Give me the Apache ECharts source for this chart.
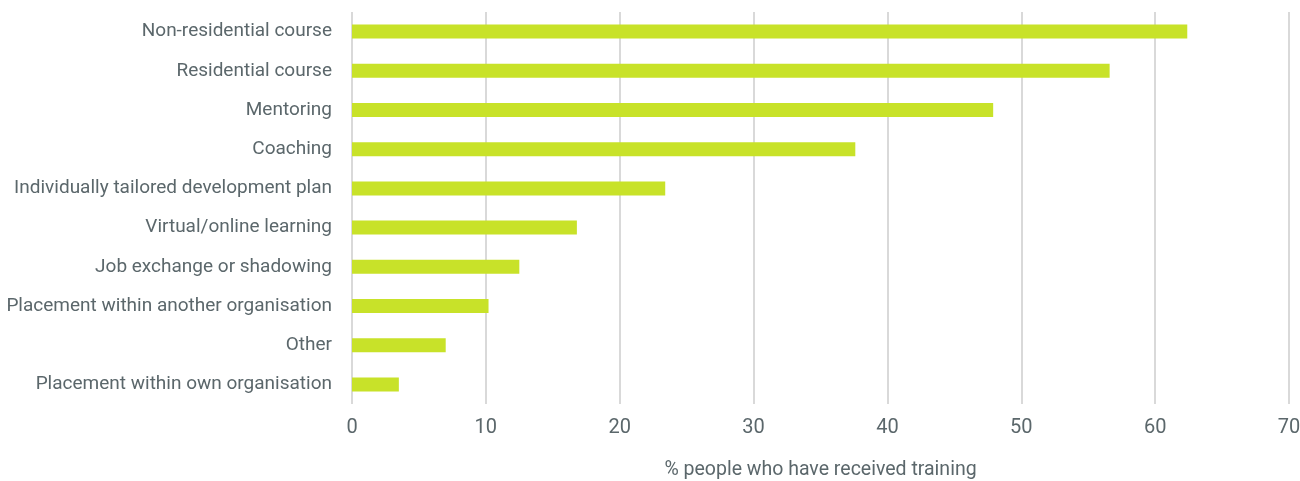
<!DOCTYPE html>
<html>
<head>
<meta charset="utf-8">
<script src="https://cdn.jsdelivr.net/npm/echarts@6/dist/echarts.min.js"></script>
<style>
html,body{margin:0;padding:0;background:#fff;}
#c{width:1300px;height:481px;}
</style>
</head>
<body>
<div id="c"></div>
<script>
const categories = [
  "Non-residential course",
  "Residential course",
  "Mentoring",
  "Coaching",
  "Individually tailored development plan",
  "Virtual/online learning",
  "Job exchange or shadowing",
  "Placement within another organisation",
  "Other",
  "Placement within own organisation"
];
const values = [62.4, 56.6, 47.9, 37.6, 23.4, 16.8, 12.5, 10.2, 7.0, 3.5];
const xTicks = { min: 0, max: 70, interval: 10 };
const axisTitle = "% people who have received training";

const font = "Roboto, sans-serif";
const textColor = "#5b676b";

const chart = echarts.init(document.getElementById('c'), null, {renderer: 'canvas'});
chart.setOption({
  animation: false,
  grid: { left: 352, right: 11, top: 12, bottom: 77, containLabel: false, outerBoundsMode: 'none' },
  xAxis: {
    type: 'value',
    min: xTicks.min, max: xTicks.max, interval: xTicks.interval,
    name: axisTitle,
    nameLocation: 'middle',
    nameGap: 56,
    nameTextStyle: { fontFamily: font, fontSize: 19.5, color: textColor },
    axisLine: { show: false },
    axisTick: { show: false },
    axisLabel: { fontFamily: font, fontSize: 20, color: textColor, margin: 14 },
    splitLine: { show: true, lineStyle: { color: '#d9d9d9', width: 2 } }
  },
  yAxis: {
    type: 'category',
    inverse: true,
    data: categories,
    axisLine: { show: false },
    axisTick: { show: false },
    axisLabel: { fontFamily: font, fontSize: 19, color: textColor, margin: 20 },
    splitLine: { show: false }
  },
  series: [{
    type: 'bar',
    data: values,
    barWidth: 14,
    itemStyle: { color: '#c8e229' }
  }]
});
</script>
</body>
</html>
